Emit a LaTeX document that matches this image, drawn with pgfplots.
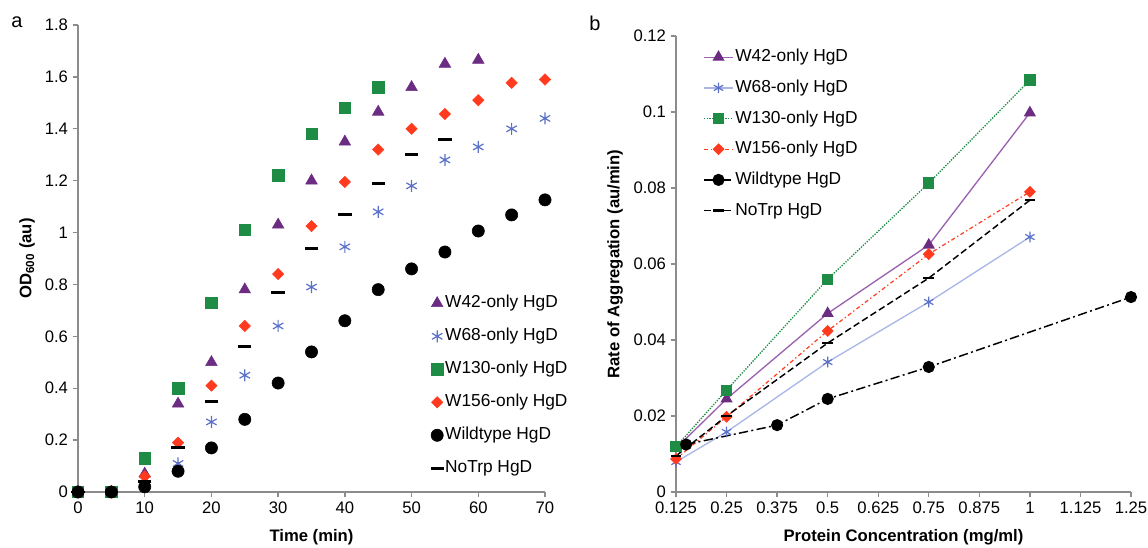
\documentclass[border=0pt]{standalone}
\usepackage{fontspec}
\setmainfont{Liberation Sans}
\usepackage{pgfplots}
\pgfplotsset{compat=1.18}

\definecolor{cpurple}{HTML}{6B2C82}
\definecolor{cpurpleL}{HTML}{9A62AE}
\definecolor{cblue}{HTML}{5B70C8}
\definecolor{cblueL}{HTML}{AAB6E6}
\definecolor{cgreen}{HTML}{1E8C45}
\definecolor{cred}{HTML}{FF3A1E}
\definecolor{caxis}{HTML}{8C8C8C}

\pgfplotsset{
  panel/.style={
    scale only axis, anchor=south west,
    axis lines=left,
    axis line style={caxis, line width=1.2pt, -},
    tick style={caxis, line width=1pt},
    tick align=outside, major tick length=4pt,
    tick label style={font=\fontsize{12.5}{14}\selectfont},
    label style={font=\bfseries\fontsize{12.5}{14}\selectfont},
    /pgf/number format/fixed,
    /pgf/number format/precision=3,
    /pgf/number format/assume math mode=true,
    clip=false, legend cell align=left,
  }
}

\begin{document}
\begin{tikzpicture}
\path[use as bounding box] (0,0) rectangle (861pt,410.25pt);
\node[font=\fontsize{15}{17}\selectfont] at (12.75pt,393.75pt) {a};
\node[font=\fontsize{15}{17}\selectfont] at (446.25pt,393pt) {b};

% panel a
\begin{axis}[panel,
  at={(58.5pt,41.25pt)}, width=350.25pt, height=350.25pt,
  xmin=0, xmax=70, ymin=0, ymax=1.8,
  xtick={0,10,20,30,40,50,60,70},
  ytick={0,0.2,0.4,0.6,0.8,1,1.2,1.4,1.6,1.8},
  xlabel={Time (min)}, ylabel={OD\textsubscript{600} (au)},
  xlabel style={at={(axis description cs:0.5,-0.096)}, anchor=center},
  ylabel style={at={(axis description cs:-0.109,0.5)}, anchor=center},
  legend style={at={(axis cs:52.8,0.767)}, anchor=north west, draw=none, fill=none,
    font=\fontsize{13}{15}\selectfont, inner sep=0pt, row sep=9.75pt,
    nodes={inner sep=1pt, text height=10pt, text depth=3pt}},
]
\addplot[only marks, mark=triangle*, mark size=5pt, color=cpurple] coordinates {
 (0,0) (5,0) (10,0.07) (15,0.34) (20,0.50) (25,0.78) (30,1.03) (35,1.20) (40,1.35)
 (45,1.465) (50,1.56) (55,1.65) (60,1.665)};
\addplot[only marks, mark=asterisk, mark size=4.5pt, color=cblue, mark options={line width=0.9pt}] coordinates {
 (0,0) (5,0) (10,0.05) (15,0.11) (20,0.27) (25,0.45) (30,0.64) (35,0.79) (40,0.945)
 (45,1.08) (50,1.18) (55,1.28) (60,1.33) (65,1.40) (70,1.44)};
\addplot[only marks, mark=square*, mark size=4.3pt, color=cgreen] coordinates {
 (0,0) (5,0) (10,0.13) (15,0.40) (20,0.73) (25,1.01) (30,1.22) (35,1.38) (40,1.48) (45,1.56)};
\addplot[only marks, mark=square*, mark size=3pt, color=cred, mark options={rotate=45}] coordinates {
 (0,0) (5,0) (10,0.06) (15,0.19) (20,0.41) (25,0.64) (30,0.84) (35,1.025) (40,1.195)
 (45,1.32) (50,1.40) (55,1.457) (60,1.51) (65,1.577) (70,1.59)};
\addplot[only marks, mark=*, mark size=4.6pt, color=black] coordinates {
 (0,0) (5,0) (10,0.02) (15,0.08) (20,0.17) (25,0.28) (30,0.42) (35,0.54) (40,0.66)
 (45,0.78) (50,0.86) (55,0.925) (60,1.006) (65,1.068) (70,1.126)};
\addplot[only marks, mark=-, mark size=5pt, color=black, mark options={line width=2.2pt}] coordinates {
 (0,0) (5,0) (10,0.04) (15,0.17) (20,0.35) (25,0.56) (30,0.77) (35,0.94) (40,1.07)
 (45,1.19) (50,1.30) (55,1.357)};
\legend{W42-only HgD, W68-only HgD, W130-only HgD, W156-only HgD, Wildtype HgD, NoTrp HgD}
\end{axis}

% panel b
\begin{axis}[panel,
  at={(507pt,41.25pt)}, width=341.25pt, height=342pt,
  xmin=0.125, xmax=1.25, ymin=0, ymax=0.12,
  xtick={0.125,0.25,0.375,0.5,0.625,0.75,0.875,1,1.125,1.25},
  ytick={0,0.02,0.04,0.06,0.08,0.1,0.12},
  scaled x ticks=false, scaled y ticks=false,
  xlabel={Protein Concentration (mg/ml)}, ylabel={Rate of Aggregation (au/min)},
  xlabel style={at={(axis description cs:0.5,-0.099)}, anchor=center},
  ylabel style={at={(axis description cs:-0.134,0.5)}, anchor=center},
  legend style={at={(axis description cs:0.059,0.976)}, anchor=north west, draw=none, fill=none,
    font=\fontsize{13}{15}\selectfont, inner sep=0pt, row sep=8pt,
    nodes={inner sep=1pt, text height=10pt, text depth=3pt}},
  legend image code/.code={\draw[mark repeat=2,mark phase=2] plot coordinates {(0pt,0pt)(11pt,0pt)(22pt,0pt)};},
]
\addplot[color=cpurpleL, line width=1pt, mark=triangle*, mark size=4.3pt, mark options={cpurple, solid}] coordinates {
 (0.125,0.0115) (0.25,0.0245) (0.5,0.047) (0.75,0.065) (1,0.0998)};
\addplot[color=cblueL, line width=1pt, mark=asterisk, mark size=4pt, mark options={cblue, solid, line width=0.9pt}] coordinates {
 (0.125,0.0079) (0.25,0.0158) (0.5,0.0342) (0.75,0.050) (1,0.0671)};
\addplot[color=cgreen, densely dotted, line width=1pt, mark=square*, mark size=3.7pt, mark options={solid}] coordinates {
 (0.125,0.0119) (0.25,0.0268) (0.5,0.056) (0.75,0.0813) (1,0.1084)};
\addplot[color=cred, dash pattern=on 3pt off 2pt on 1pt off 2pt, line width=0.9pt, mark=square*, mark size=2.7pt, mark options={solid, rotate=45}] coordinates {
 (0.125,0.0087) (0.25,0.0198) (0.5,0.0424) (0.75,0.0626) (1,0.079)};
\addplot[color=black, dash pattern=on 7pt off 2.5pt on 1.5pt off 2.5pt, line width=1.1pt, mark=*, mark size=4pt, mark options={solid}] coordinates {
 (0.15,0.0125) (0.375,0.0176) (0.5,0.0245) (0.75,0.0329) (1.25,0.0513)};
\addplot[color=black, dash pattern=on 5pt off 2.5pt, line width=1.1pt, mark=-, mark size=4pt, mark options={solid, line width=2pt}] coordinates {
 (0.125,0.0095) (0.25,0.0200) (0.5,0.0392) (0.75,0.0563) (1,0.0768)};
\legend{W42-only HgD, W68-only HgD, W130-only HgD, W156-only HgD, Wildtype HgD, NoTrp HgD}
\end{axis}
\end{tikzpicture}
\end{document}
